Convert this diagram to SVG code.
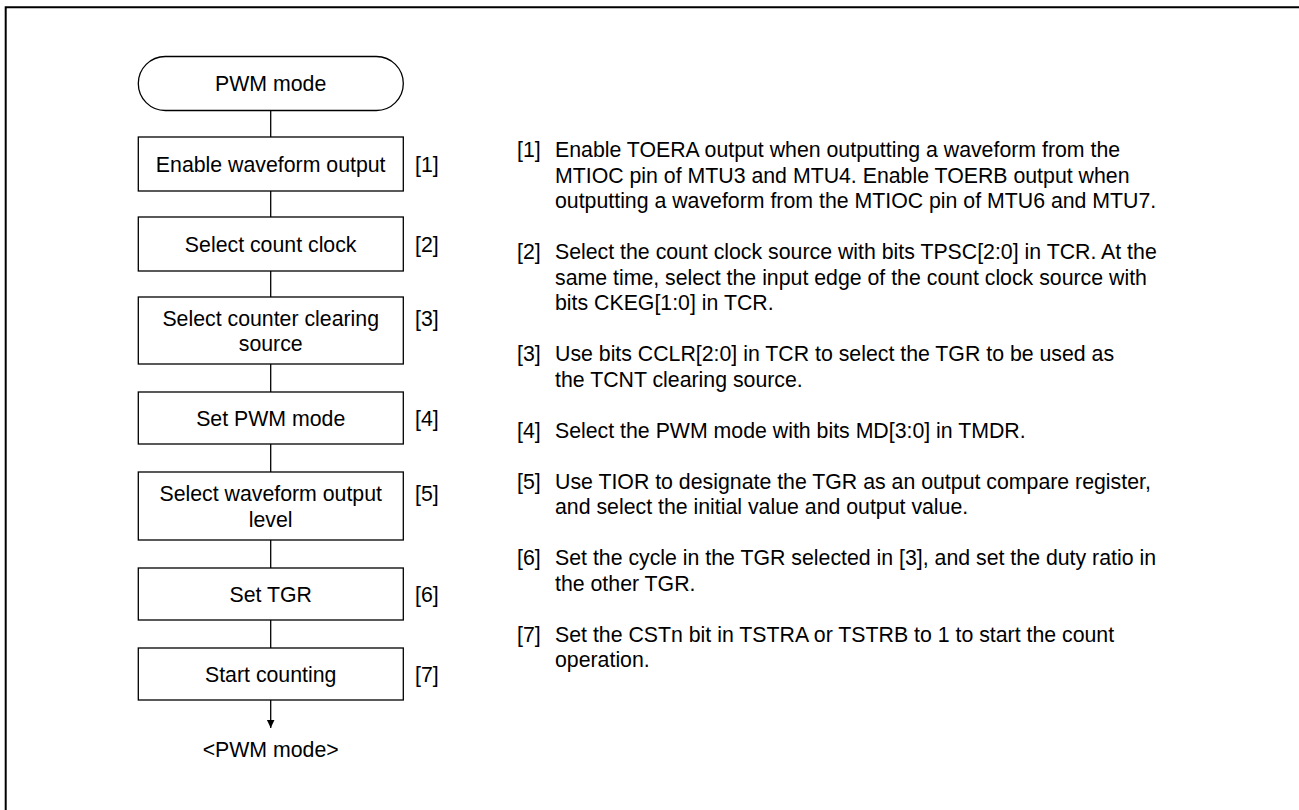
<svg xmlns="http://www.w3.org/2000/svg" width="1299" height="810" viewBox="0 0 1299 810">
  <style>
    .box { fill: #ffffff; stroke: #000000; stroke-width: 1.3; }
    .line { fill: none; stroke: #000000; stroke-width: 1.3; }
    .t { font-family: "Liberation Sans", Arial, sans-serif; font-size: 21.3px; fill: #000000; }
    .c { text-anchor: middle; }
  </style>
  <defs>
    <marker id="arrow" markerUnits="userSpaceOnUse" markerWidth="10" markerHeight="10" refX="8.5" refY="4" orient="auto">
      <path d="M0,0 L8.5,4 L0,8 Z" fill="#000000"/>
    </marker>
  </defs>
  <rect width="1299" height="810" fill="#ffffff"/>
  <path d="M5.7,810 V7.3 H1299" fill="none" stroke="#000000" stroke-width="2"/>

  <g id="connectors">
    <line class="line" x1="270.7" y1="110.5" x2="270.7" y2="137"/>
    <line class="line" x1="270.7" y1="191" x2="270.7" y2="217"/>
    <line class="line" x1="270.7" y1="271" x2="270.7" y2="297"/>
    <line class="line" x1="270.7" y1="364" x2="270.7" y2="392"/>
    <line class="line" x1="270.7" y1="444" x2="270.7" y2="472"/>
    <line class="line" x1="270.7" y1="540" x2="270.7" y2="568"/>
    <line class="line" x1="270.7" y1="620" x2="270.7" y2="648"/>
    <line class="line" x1="270.7" y1="700" x2="270.7" y2="728" marker-end="url(#arrow)"/>
  </g>

  <g id="start">
    <rect class="box" x="138.3" y="56.5" width="265" height="54" rx="27" ry="27"/>
    <text class="t c" x="270.7" y="91">PWM mode</text>
  </g>

  <g id="step1">
    <rect class="box" x="138.3" y="137" width="265" height="54"/>
    <text class="t c" x="270.7" y="171.5">Enable waveform output</text>
    <text class="t" x="415" y="171.5">[1]</text>
  </g>

  <g id="step2">
    <rect class="box" x="138.3" y="217" width="265" height="54"/>
    <text class="t c" x="270.7" y="251.5">Select count clock</text>
    <text class="t" x="415" y="251.5">[2]</text>
  </g>

  <g id="step3">
    <rect class="box" x="138.3" y="297" width="265" height="67"/>
    <text class="t c" x="270.7" y="325.5">Select counter clearing</text>
    <text class="t c" x="270.7" y="351">source</text>
    <text class="t" x="415" y="325.5">[3]</text>
  </g>

  <g id="step4">
    <rect class="box" x="138.3" y="392" width="265" height="52"/>
    <text class="t c" x="270.7" y="425.5">Set PWM mode</text>
    <text class="t" x="415" y="425.5">[4]</text>
  </g>

  <g id="step5">
    <rect class="box" x="138.3" y="472" width="265" height="68"/>
    <text class="t c" x="270.7" y="501">Select waveform output</text>
    <text class="t c" x="270.7" y="526.5">level</text>
    <text class="t" x="415" y="501">[5]</text>
  </g>

  <g id="step6">
    <rect class="box" x="138.3" y="568" width="265" height="52"/>
    <text class="t c" x="270.7" y="601.5">Set TGR</text>
    <text class="t" x="415" y="601.5">[6]</text>
  </g>

  <g id="step7">
    <rect class="box" x="138.3" y="648" width="265" height="52"/>
    <text class="t c" x="270.7" y="681.5">Start counting</text>
    <text class="t" x="415" y="681.5">[7]</text>
  </g>

  <g id="end">
    <text class="t c" x="270.7" y="757">&lt;PWM mode&gt;</text>
  </g>

  <g id="notes">
    <text class="t" x="517" y="157">[1]</text>
    <text class="t"><tspan x="555" y="157">Enable TOERA output when outputting a waveform from the</tspan><tspan x="555" y="182.5">MTIOC pin of MTU3 and MTU4. Enable TOERB output when</tspan><tspan x="555" y="208">outputting a waveform from the MTIOC pin of MTU6 and MTU7.</tspan></text>

    <text class="t" x="517" y="259">[2]</text>
    <text class="t"><tspan x="555" y="259">Select the count clock source with bits TPSC[2:0] in TCR. At the</tspan><tspan x="555" y="284.5">same time, select the input edge of the count clock source with</tspan><tspan x="555" y="310">bits CKEG[1:0] in TCR.</tspan></text>

    <text class="t" x="517" y="361">[3]</text>
    <text class="t"><tspan x="555" y="361">Use bits CCLR[2:0] in TCR to select the TGR to be used as</tspan><tspan x="555" y="386.5">the TCNT clearing source.</tspan></text>

    <text class="t" x="517" y="437.5">[4]</text>
    <text class="t" x="555" y="437.5">Select the PWM mode with bits MD[3:0] in TMDR.</text>

    <text class="t" x="517" y="488.5">[5]</text>
    <text class="t"><tspan x="555" y="488.5">Use TIOR to designate the TGR as an output compare register,</tspan><tspan x="555" y="514">and select the initial value and output value.</tspan></text>

    <text class="t" x="517" y="565">[6]</text>
    <text class="t"><tspan x="555" y="565">Set the cycle in the TGR selected in [3], and set the duty ratio in</tspan><tspan x="555" y="590.5">the other TGR.</tspan></text>

    <text class="t" x="517" y="641.5">[7]</text>
    <text class="t"><tspan x="555" y="641.5">Set the CSTn bit in TSTRA or TSTRB to 1 to start the count</tspan><tspan x="555" y="667">operation.</tspan></text>
  </g>
</svg>
